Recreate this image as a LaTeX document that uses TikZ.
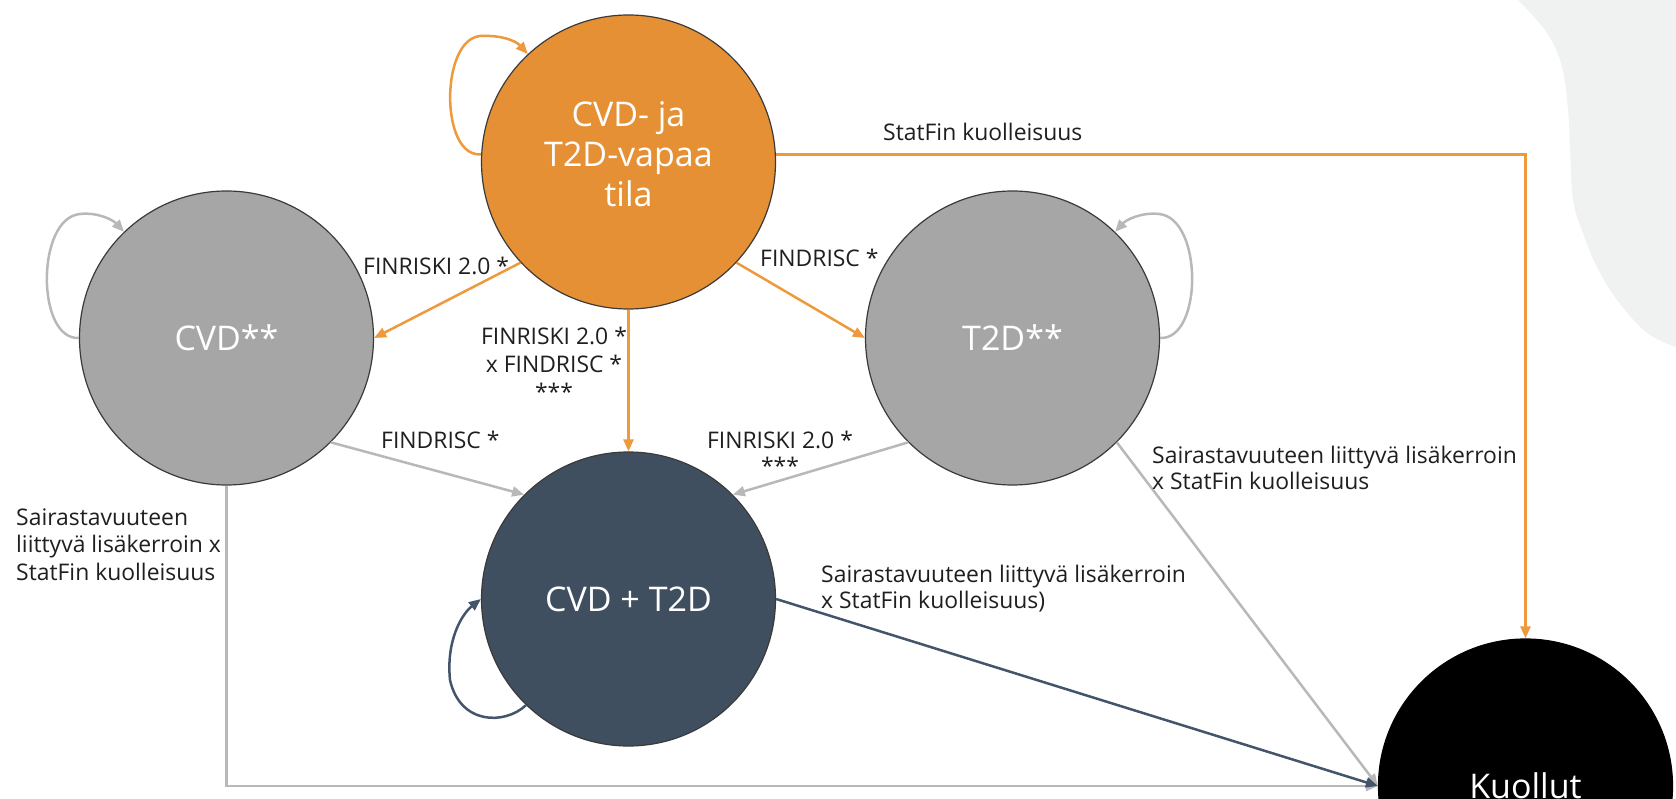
\documentclass[tikz,border=0pt]{standalone}
\usepackage{fontspec}
\setmainfont{Open Sans}
\usetikzlibrary{arrows.meta}
\definecolor{orangeC}{HTML}{E69035}
\definecolor{orangeL}{HTML}{EE9A3C}
\definecolor{grayC}{HTML}{A6A6A6}
\definecolor{grayL}{HTML}{B8B8B8}
\definecolor{slateC}{HTML}{3F4F60}
\definecolor{slateL}{HTML}{44546A}
\definecolor{bgC}{HTML}{F0F1F1}
\definecolor{txtC}{HTML}{1F1F1F}
\definecolor{rimC}{HTML}{3A3A3A}
\begin{document}
\begin{tikzpicture}[x=1pt,y=-1pt,
  state/.style={circle,minimum size=294pt,inner sep=0pt,line width=1.2pt,text=white,
    font=\fontsize{34}{40}\selectfont},
  lbl/.style={text=txtC,font=\fontsize{22.9}{27}\selectfont,inner sep=0pt},
  arr/.style={line width=2.5pt,-{Triangle[length=12pt,width=10pt]}},
  orarr/.style={arr,draw=orangeL},
  grarr/.style={arr,draw=grayL},
  slarr/.style={arr,draw=slateL}]
\useasboundingbox (0,0) rectangle (1676,799);
% background shape
\fill[bgC] plot[smooth,tension=0.6] coordinates {(1518,0) (1547,33) (1562,67) (1568,110) (1570,150) (1573,200) (1583,233) (1597,267) (1617,300) (1647,333) (1676,347)} -- (1676,0) -- cycle;

% states
\node[state,fill=orangeC,draw=rimC] (top) at (628.5,162)
  {\raisebox{3pt}[\height][\depth]{\begin{tabular}{@{}c@{}}CVD- ja\\T2D-vapaa\\tila\end{tabular}}};
\node[state,fill=grayC,draw=rimC] (cvd) at (226.5,338) {CVD**};
\node[state,fill=grayC,draw=rimC] (t2d) at (1012.5,338) {T2D**};
\node[state,fill=slateC,draw=rimC] (comb) at (628.5,599) {CVD + T2D};
\node[state,fill=black,draw=black] (kuol) at (1525.5,786) {Kuollut};

% orange transitions
\draw[orarr] (top.223) -- (cvd.east);
\draw[orarr] (top.317) -- (t2d.west);
\draw[orarr] (top.south) -- (comb.north);
\draw[orarr] (top.3) -| (kuol.north);
\draw[orarr] (top.177) .. controls (440,158) and (440,40) .. (480,36) .. controls (500,35) and (515,40) .. (top.133);

% gray transitions
\draw[grarr] (cvd.315) -- (comb.135);
\draw[grarr] (t2d.225) -- (comb.45);
\draw[grarr] (t2d.315) -- (kuol.west);
\draw[grarr] (cvd.south) |- (kuol.west);
\draw[grarr] (cvd.180) .. controls (36,340) and (36,218) .. (80,214) .. controls (98,212) and (113,220) .. (cvd.134);
\draw[grarr] (t2d.0) .. controls (1203,340) and (1203,218) .. (1159,214) .. controls (1141,212) and (1126,220) .. (t2d.46);

% dark transitions
\draw[slarr] (comb.east) -- (kuol.west);
\draw[slarr] (comb.226) .. controls (505,725) and (460,725) .. (450,680) .. controls (446,640) and (462,614) .. (comb.180);

% labels
\node[lbl,anchor=base west] (sf) at (883,141) {StatFin kuolleisuus};
\node[lbl,anchor=base west] (f1) at (363,275) {FINRISKI 2.0 *};
\node[lbl,anchor=base west] (f2) at (760,267) {FINDRISC *};
\node[lbl,anchor=base] (m1) at (554,345) {FINRISKI 2.0 *};
\node[lbl,anchor=base] (m2) at (554,373) {x FINDRISC *};
\node[lbl,anchor=base] (m3) at (554,400) {***};
\node[lbl,anchor=base west] (f3) at (381,448) {FINDRISC *};
\node[lbl,anchor=base] (f4) at (780,448) {FINRISKI 2.0 *};
\node[lbl,anchor=base] (f5) at (780,474) {***};
\node[lbl,anchor=base west] (la) at (16,525) {Sairastavuuteen};
\node[lbl,anchor=base west] (lb) at (16,552.5) {liittyvä lisäkerroin x};
\node[lbl,anchor=base west] (lc) at (16,580) {StatFin kuolleisuus};
\node[lbl,anchor=base west] (ra) at (1152,463) {Sairastavuuteen liittyvä lisäkerroin};
\node[lbl,anchor=base west] (rb) at (1152,489) {x StatFin kuolleisuus};
\node[lbl,anchor=base west] (ma) at (821,582) {Sairastavuuteen liittyvä lisäkerroin};
\node[lbl,anchor=base west] (mb) at (821,608) {x StatFin kuolleisuus)};
\end{tikzpicture}
\end{document}
